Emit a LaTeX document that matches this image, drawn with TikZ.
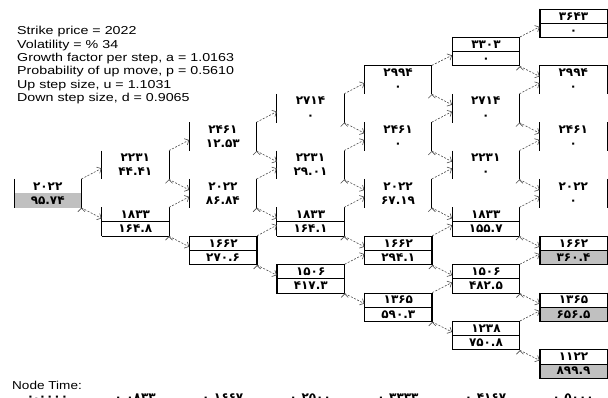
\documentclass[tikz,border=0pt]{standalone}
\usepackage{graphicx}
\usepackage{fontspec}
\setmainfont{Liberation Sans}
\newfontfamily\digitfont{DejaVu Sans}
\usetikzlibrary{arrows.meta}
\definecolor{valgrey}{RGB}{192,192,192}
\colorlet{linkgrey}{black!70!white}
\tikzset{nodebar/.style={draw, black, line width=0.9pt}}
\tikzset{tnode/.style={minimum width=67pt, minimum height=28.4pt, inner sep=0pt, anchor=north west, align=center,
    font=\digitfont\bfseries\fontsize{12}{14.2}\selectfont,
    append after command={(\tikzlastnode.north west) edge [nodebar] (\tikzlastnode.south west)
                          (\tikzlastnode.north east) edge [nodebar] (\tikzlastnode.south east)}}}
\tikzset{tbox/.style={tnode, draw, line width=0.9pt,
    append after command={(\tikzlastnode.west) edge [nodebar] (\tikzlastnode.east)}}}
\tikzset{tlow/.style={tnode,
    append after command={(\tikzlastnode.west) edge [nodebar] (\tikzlastnode.east)
                          (\tikzlastnode.south west) edge [nodebar] (\tikzlastnode.south east)}}}
\tikzset{ttop/.style={tnode,
    append after command={(\tikzlastnode.north west) edge [nodebar] (\tikzlastnode.north east)}}}
\tikzset{tgrey/.style={path picture={\fill [valgrey] (path picture bounding box.west) rectangle (path picture bounding box.south east);}}}
\tikzset{stepline/.style={draw, linkgrey, line width=0.6pt, dash pattern=on 2pt off 1.5pt, -{Straight Barb[length=3.5pt, width=7pt]}}}
\tikzset{timetext/.style={inner sep=0pt, font=\digitfont\bfseries\fontsize{12}{13}\selectfont}}

\begin{document}
\begin{tikzpicture}[x=1pt, y=-1pt]
    \useasboundingbox (0,0) rectangle (608,398);

    \node [anchor=north west, inner sep=0pt, font=\fontsize{11.5}{13.33}\selectfont] (params) at (17,25.4)
        {\scalebox{1.24}[1]{\begin{tabular}{@{}l@{}}Strike price = 2022\\Volatility = \% 34\\Growth factor per step, a = 1.0163\\Probability of up move, p = 0.5610\\Up step size, u = 1.1031\\Down step size, d = 0.9065\end{tabular}}};

    % step 0
    \node [tnode, tgrey] (n00) at (14, 179) {۲۰۲۲\\۹۵.۷۴};
    % step 1
    \node [tnode] (n10) at (101.6, 150.6) {۲۲۳۱\\۴۴.۴۱};
    \node [tlow] (n11) at (101.6, 207.4) {۱۸۳۳\\۱۶۴.۸};
    % step 2
    \node [tnode] (n20) at (189.2, 122.2) {۲۴۶۱\\۱۲.۵۳};
    \node [tnode] (n21) at (189.2, 179) {۲۰۲۲\\۸۶.۸۴};
    \node [tbox] (n22) at (189.2, 235.8) {۱۶۶۲\\۲۷۰.۶};
    % step 3
    \node [tnode] (n30) at (276.8, 93.8) {۲۷۱۴\\۰};
    \node [tnode] (n31) at (276.8, 150.6) {۲۲۳۱\\۲۹.۰۱};
    \node [tlow] (n32) at (276.8, 207.4) {۱۸۳۳\\۱۶۴.۱};
    \node [tbox] (n33) at (276.8, 264.2) {۱۵۰۶\\۴۱۷.۳};
    % step 4
    \node [ttop] (n40) at (364.4, 65.4) {۲۹۹۴\\۰};
    \node [tnode] (n41) at (364.4, 122.2) {۲۴۶۱\\۰};
    \node [tnode] (n42) at (364.4, 179) {۲۰۲۲\\۶۷.۱۹};
    \node [tbox] (n43) at (364.4, 235.8) {۱۶۶۲\\۲۹۴.۱};
    \node [tbox] (n44) at (364.4, 292.6) {۱۳۶۵\\۵۹۰.۳};
    % step 5
    \node [tbox] (n50) at (452, 37) {۳۳۰۳\\۰};
    \node [tnode] (n51) at (452, 93.8) {۲۷۱۴\\۰};
    \node [tnode] (n52) at (452, 150.6) {۲۲۳۱\\۰};
    \node [tlow] (n53) at (452, 207.4) {۱۸۳۳\\۱۵۵.۷};
    \node [tbox] (n54) at (452, 264.2) {۱۵۰۶\\۴۸۲.۵};
    \node [tbox] (n55) at (452, 321) {۱۲۳۸\\۷۵۰.۸};
    % step 6
    \node [tbox] (n60) at (539.6, 8.6) {۳۶۴۳\\۰};
    \node [ttop] (n61) at (539.6, 65.4) {۲۹۹۴\\۰};
    \node [tnode] (n62) at (539.6, 122.2) {۲۴۶۱\\۰};
    \node [tnode] (n63) at (539.6, 179) {۲۰۲۲\\۰};
    \node [tbox, tgrey] (n64) at (539.6, 235.8) {۱۶۶۲\\۳۶۰.۴};
    \node [tbox, tgrey] (n65) at (539.6, 292.6) {۱۳۶۵\\۶۵۶.۵};
    \node [tbox, tgrey] (n66) at (539.6, 349.4) {۱۱۲۲\\۸۹۹.۹};

    % up and down moves
    \path [stepline] (n00.north east) edge ([yshift=11pt]n10.south west) (n00.south east) edge ([yshift=-11pt]n11.north west);
    \path [stepline] (n10.north east) edge ([yshift=11pt]n20.south west) (n10.south east) edge ([yshift=-11pt]n21.north west);
    \path [stepline] (n11.north east) edge ([yshift=11pt]n21.south west) (n11.south east) edge ([yshift=-11pt]n22.north west);
    \path [stepline] (n20.north east) edge ([yshift=11pt]n30.south west) (n20.south east) edge ([yshift=-11pt]n31.north west);
    \path [stepline] (n21.north east) edge ([yshift=11pt]n31.south west) (n21.south east) edge ([yshift=-11pt]n32.north west);
    \path [stepline] (n22.north east) edge ([yshift=11pt]n32.south west) (n22.south east) edge ([yshift=-11pt]n33.north west);
    \path [stepline] (n30.north east) edge ([yshift=11pt]n40.south west) (n30.south east) edge ([yshift=-11pt]n41.north west);
    \path [stepline] (n31.north east) edge ([yshift=11pt]n41.south west) (n31.south east) edge ([yshift=-11pt]n42.north west);
    \path [stepline] (n32.north east) edge ([yshift=11pt]n42.south west) (n32.south east) edge ([yshift=-11pt]n43.north west);
    \path [stepline] (n33.north east) edge ([yshift=11pt]n43.south west) (n33.south east) edge ([yshift=-11pt]n44.north west);
    \path [stepline] (n40.north east) edge ([yshift=11pt]n50.south west) (n40.south east) edge ([yshift=-11pt]n51.north west);
    \path [stepline] (n41.north east) edge ([yshift=11pt]n51.south west) (n41.south east) edge ([yshift=-11pt]n52.north west);
    \path [stepline] (n42.north east) edge ([yshift=11pt]n52.south west) (n42.south east) edge ([yshift=-11pt]n53.north west);
    \path [stepline] (n43.north east) edge ([yshift=11pt]n53.south west) (n43.south east) edge ([yshift=-11pt]n54.north west);
    \path [stepline] (n44.north east) edge ([yshift=11pt]n54.south west) (n44.south east) edge ([yshift=-11pt]n55.north west);
    \path [stepline] (n50.north east) edge ([yshift=11pt]n60.south west) (n50.south east) edge ([yshift=-11pt]n61.north west);
    \path [stepline] (n51.north east) edge ([yshift=11pt]n61.south west) (n51.south east) edge ([yshift=-11pt]n62.north west);
    \path [stepline] (n52.north east) edge ([yshift=11pt]n62.south west) (n52.south east) edge ([yshift=-11pt]n63.north west);
    \path [stepline] (n53.north east) edge ([yshift=11pt]n63.south west) (n53.south east) edge ([yshift=-11pt]n64.north west);
    \path [stepline] (n54.north east) edge ([yshift=11pt]n64.south west) (n54.south east) edge ([yshift=-11pt]n65.north west);
    \path [stepline] (n55.north east) edge ([yshift=11pt]n65.south west) (n55.south east) edge ([yshift=-11pt]n66.north west);

    % time axis
    \node [anchor=west, inner sep=0pt, font=\fontsize{11.5}{13.33}\selectfont] (timelabel) at (12, 385) {\scalebox{1.18}[1]{Node Time:}};
    \node [timetext] (t0) at (47.5, 398) {۰.۰۰۰۰};
    \node [timetext] (t1) at (135.1, 398) {۰.۰۸۳۳};
    \node [timetext] (t2) at (222.7, 398) {۰.۱۶۶۷};
    \node [timetext] (t3) at (310.3, 398) {۰.۲۵۰۰};
    \node [timetext] (t4) at (397.9, 398) {۰.۳۳۳۳};
    \node [timetext] (t5) at (485.5, 398) {۰.۴۱۶۷};
    \node [timetext] (t6) at (573.1, 398) {۰.۵۰۰۰};
\end{tikzpicture}
\end{document}
